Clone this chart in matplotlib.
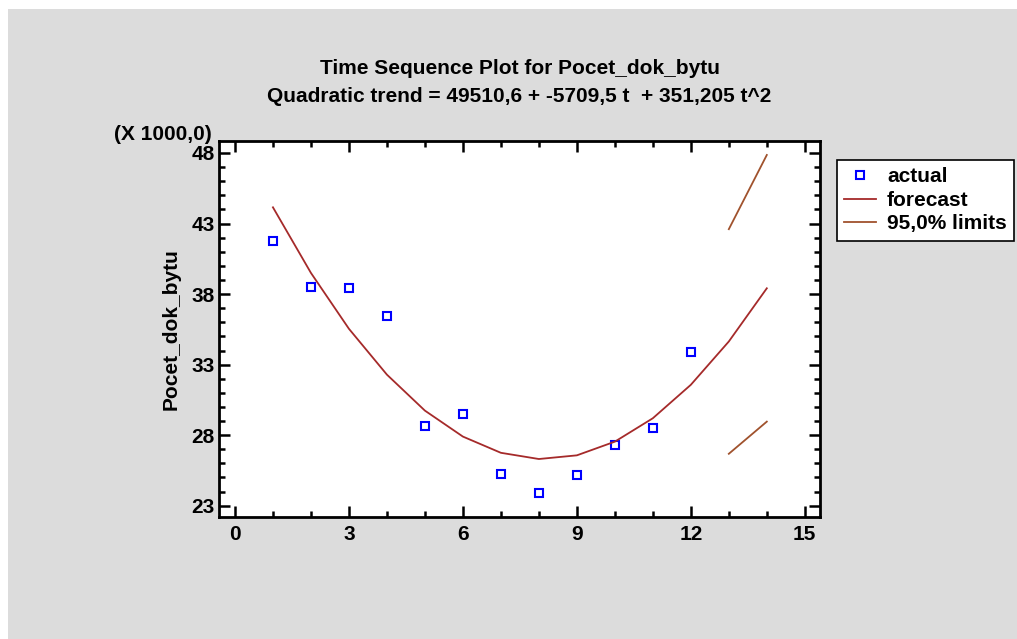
import matplotlib
matplotlib.use("Agg")
import matplotlib.pyplot as plt
from matplotlib.patches import Rectangle
from matplotlib.ticker import MultipleLocator

plt.rcParams['font.family'] = ['Liberation Sans', 'DejaVu Sans']

t_actual = [1, 2, 3, 4, 5, 6, 7, 8, 9, 10, 11, 12]
actual = [41.76, 38.5, 38.45, 36.44, 28.64, 29.49, 25.23, 23.9, 25.16, 27.3, 28.5, 33.9]

t_forecast = [1, 2, 3, 4, 5, 6, 7, 8, 9, 10, 11, 12, 13, 14]
forecast = [44.15, 39.50, 35.54, 32.29, 29.74, 27.90, 26.75, 26.31, 26.57,
            27.54, 29.20, 31.57, 34.64, 38.41]

t_limits = [13, 14]
upper = [42.6, 47.86]
lower = [26.68, 28.96]

title_lines = ["Time Sequence Plot for Pocet_dok_bytu",
               "Quadratic trend = 49510,6 + -5709,5 t  + 351,205 t^2"]
ylabel = "Pocet_dok_bytu"
x_ticks = [0, 3, 6, 9, 12, 15]
y_ticks = [23, 28, 33, 38, 43, 48]

FS = 15

W, H = 1017, 639
fig = plt.figure(figsize=(W / 100, H / 100), dpi=100, facecolor='white')
fig.patches.append(Rectangle((8 / W, 0), 1, 1 - 9 / H, transform=fig.transFigure,
                             facecolor='#dcdcdc', edgecolor='none', zorder=-10))

ax = fig.add_axes([219 / W, 1 - 517 / H, (820 - 219) / W, (517 - 141) / H])
ax.set_facecolor('white')

fc_color = '#a52a2a'
lim_color = '#a0522d'

ax.plot(t_actual, actual, linestyle='none', marker='s', markersize=6,
        markerfacecolor='none', markeredgecolor='#0000ff', markeredgewidth=1.5,
        label='actual')
ax.plot(t_forecast, forecast, color=fc_color, linewidth=1.3, label='forecast')
ax.plot(t_limits, upper, color=lim_color, linewidth=1.3, label='95,0% limits')
ax.plot(t_limits, lower, color=lim_color, linewidth=1.3)

ax.set_xlim(-0.42, 15.4)
ax.set_ylim(22.2, 48.85)
ax.set_xticks(x_ticks)
ax.set_yticks(y_ticks)
ax.xaxis.set_minor_locator(MultipleLocator(1))
ax.yaxis.set_minor_locator(MultipleLocator(1))
ax.tick_params(which='both', direction='in', top=True, right=True, width=1.8)
ax.tick_params(which='major', length=8, labelsize=FS)
ax.tick_params(which='minor', length=4)
for lab in ax.get_xticklabels() + ax.get_yticklabels():
    lab.set_fontweight('bold')
ax.tick_params(axis='x', pad=6)
ax.tick_params(axis='y', pad=3)
for s in ax.spines.values():
    s.set_linewidth(2)

ax.set_ylabel(ylabel, fontsize=FS, fontweight='bold', labelpad=8)
fig.text(519.5 / W, 1 - 68 / H, title_lines[0], ha='center', va='center',
         fontsize=FS, fontweight='bold')
fig.text(519.5 / W, 1 - 96 / H, title_lines[1], ha='center', va='center',
         fontsize=FS, fontweight='bold')
fig.text(212 / W, 1 - 134 / H, "(X 1000,0)", ha='right', va='center',
         fontsize=FS, fontweight='bold')

leg = ax.legend(loc='upper left', bbox_to_anchor=(837 / W, 1 - 160 / H),
                bbox_transform=fig.transFigure, frameon=True, fancybox=False,
                prop={'weight': 'bold', 'size': FS}, borderpad=0.35,
                labelspacing=0.22, handlelength=1.5, handletextpad=0.55,
                borderaxespad=0, framealpha=1)
leg.get_frame().set_edgecolor('black')
leg.get_frame().set_facecolor('white')
leg.get_frame().set_linewidth(1.2)

fig.savefig('out.png', dpi=100, facecolor=fig.get_facecolor())
